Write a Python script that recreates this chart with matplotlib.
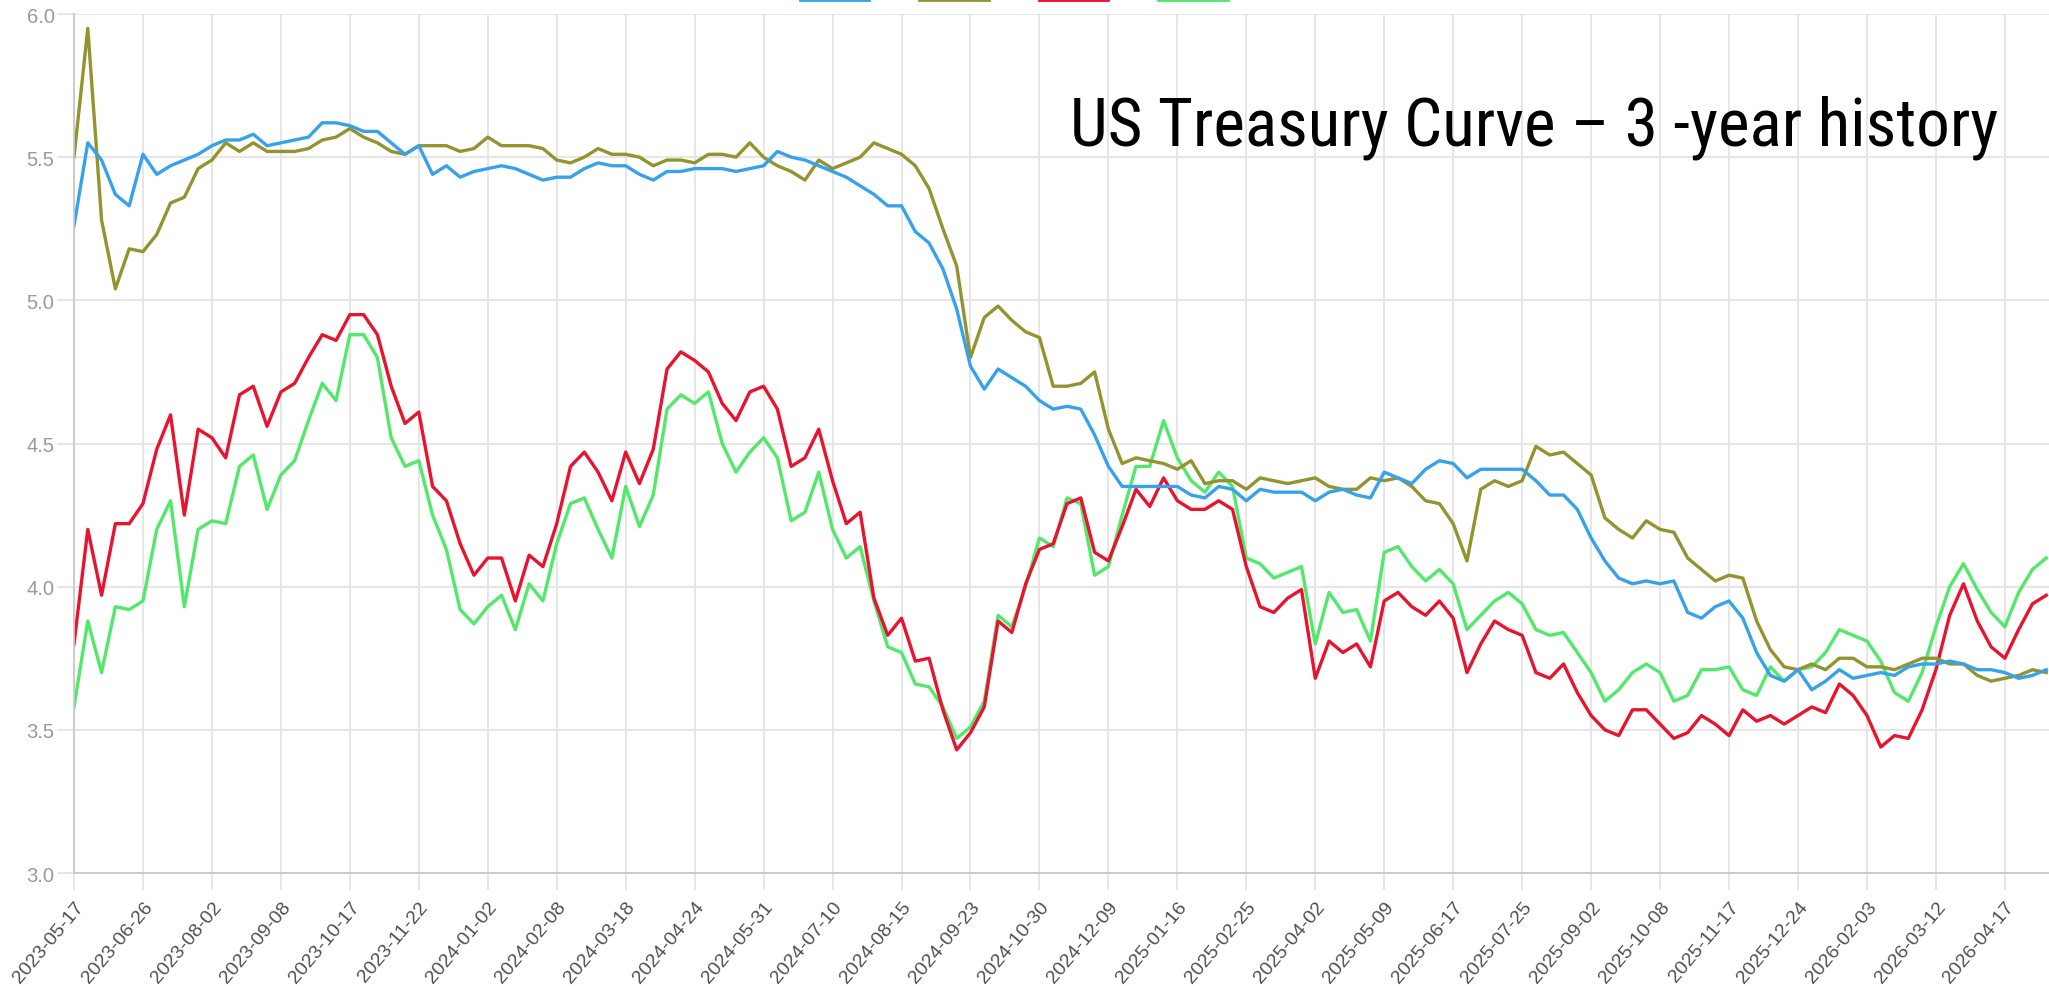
import numpy as np
import matplotlib
matplotlib.use('Agg')
import matplotlib.pyplot as plt
import matplotlib.font_manager as fm
from matplotlib.patches import Patch

# tick labels (category axis, one label every 5 points)
tick_dates = ['2023-05-17', '2023-06-26', '2023-08-02', '2023-09-08', '2023-10-17', '2023-11-22',
              '2024-01-02', '2024-02-08', '2024-03-18', '2024-04-24', '2024-05-31', '2024-07-10',
              '2024-08-15', '2024-09-23', '2024-10-30', '2024-12-09', '2025-01-16', '2025-02-25',
              '2025-04-02', '2025-05-09', '2025-06-17', '2025-07-25', '2025-09-02', '2025-10-08',
              '2025-11-17', '2025-12-24', '2026-02-03', '2026-03-12', '2026-04-17']

blue = [5.26, 5.55, 5.49, 5.37, 5.33, 5.51, 5.44, 5.47, 5.49, 5.51,
        5.54, 5.56, 5.56, 5.58, 5.54, 5.55, 5.56, 5.57, 5.62, 5.62,
        5.61, 5.59, 5.59, 5.55, 5.51, 5.54, 5.44, 5.47, 5.43, 5.45,
        5.46, 5.47, 5.46, 5.44, 5.42, 5.43, 5.43, 5.46, 5.48, 5.47,
        5.47, 5.44, 5.42, 5.45, 5.45, 5.46, 5.46, 5.46, 5.45, 5.46,
        5.47, 5.52, 5.50, 5.49, 5.47, 5.45, 5.43, 5.40, 5.37, 5.33,
        5.33, 5.24, 5.20, 5.11, 4.97, 4.77, 4.69, 4.76, 4.73, 4.70,
        4.65, 4.62, 4.63, 4.62, 4.53, 4.42, 4.35, 4.35, 4.35, 4.35,
        4.35, 4.32, 4.31, 4.35, 4.34, 4.30, 4.34, 4.33, 4.33, 4.33,
        4.30, 4.33, 4.34, 4.32, 4.31, 4.40, 4.38, 4.36, 4.41, 4.44,
        4.43, 4.38, 4.41, 4.41, 4.41, 4.41, 4.37, 4.32, 4.32, 4.27,
        4.17, 4.09, 4.03, 4.01, 4.02, 4.01, 4.02, 3.91, 3.89, 3.93,
        3.95, 3.89, 3.77, 3.69, 3.67, 3.71, 3.64, 3.67, 3.71, 3.68,
        3.69, 3.70, 3.69, 3.72, 3.73, 3.73, 3.74, 3.73, 3.71, 3.71,
        3.70, 3.68, 3.69, 3.71]

olive = [5.50, 5.95, 5.28, 5.04, 5.18, 5.17, 5.23, 5.34, 5.36, 5.46,
         5.49, 5.55, 5.52, 5.55, 5.52, 5.52, 5.52, 5.53, 5.56, 5.57,
         5.60, 5.57, 5.55, 5.52, 5.51, 5.54, 5.54, 5.54, 5.52, 5.53,
         5.57, 5.54, 5.54, 5.54, 5.53, 5.49, 5.48, 5.50, 5.53, 5.51,
         5.51, 5.50, 5.47, 5.49, 5.49, 5.48, 5.51, 5.51, 5.50, 5.55,
         5.50, 5.47, 5.45, 5.42, 5.49, 5.46, 5.48, 5.50, 5.55, 5.53,
         5.51, 5.47, 5.39, 5.25, 5.12, 4.80, 4.94, 4.98, 4.93, 4.89,
         4.87, 4.70, 4.70, 4.71, 4.75, 4.55, 4.43, 4.45, 4.44, 4.43,
         4.41, 4.44, 4.36, 4.37, 4.37, 4.34, 4.38, 4.37, 4.36, 4.37,
         4.38, 4.35, 4.34, 4.34, 4.38, 4.37, 4.38, 4.35, 4.30, 4.29,
         4.22, 4.09, 4.34, 4.37, 4.35, 4.37, 4.49, 4.46, 4.47, 4.43,
         4.39, 4.24, 4.20, 4.17, 4.23, 4.20, 4.19, 4.10, 4.06, 4.02,
         4.04, 4.03, 3.88, 3.78, 3.72, 3.71, 3.73, 3.71, 3.75, 3.75,
         3.72, 3.72, 3.71, 3.73, 3.75, 3.75, 3.73, 3.73, 3.69, 3.67,
         3.68, 3.69, 3.71, 3.70]

red = [3.80, 4.20, 3.97, 4.22, 4.22, 4.29, 4.48, 4.60, 4.25, 4.55,
       4.52, 4.45, 4.67, 4.70, 4.56, 4.68, 4.71, 4.80, 4.88, 4.86,
       4.95, 4.95, 4.88, 4.70, 4.57, 4.61, 4.35, 4.30, 4.15, 4.04,
       4.10, 4.10, 3.95, 4.11, 4.07, 4.22, 4.42, 4.47, 4.40, 4.30,
       4.47, 4.36, 4.48, 4.76, 4.82, 4.79, 4.75, 4.64, 4.58, 4.68,
       4.70, 4.62, 4.42, 4.45, 4.55, 4.37, 4.22, 4.26, 3.96, 3.83,
       3.89, 3.74, 3.75, 3.57, 3.43, 3.49, 3.58, 3.88, 3.84, 4.01,
       4.13, 4.15, 4.29, 4.31, 4.12, 4.09, 4.21, 4.34, 4.28, 4.38,
       4.30, 4.27, 4.27, 4.30, 4.27, 4.07, 3.93, 3.91, 3.96, 3.99,
       3.68, 3.81, 3.77, 3.80, 3.72, 3.95, 3.98, 3.93, 3.90, 3.95,
       3.89, 3.70, 3.80, 3.88, 3.85, 3.83, 3.70, 3.68, 3.73, 3.63,
       3.55, 3.50, 3.48, 3.57, 3.57, 3.52, 3.47, 3.49, 3.55, 3.52,
       3.48, 3.57, 3.53, 3.55, 3.52, 3.55, 3.58, 3.56, 3.66, 3.62,
       3.55, 3.44, 3.48, 3.47, 3.57, 3.71, 3.90, 4.01, 3.88, 3.79,
       3.75, 3.85, 3.94, 3.97]

green = [3.58, 3.88, 3.70, 3.93, 3.92, 3.95, 4.20, 4.30, 3.93, 4.20,
         4.23, 4.22, 4.42, 4.46, 4.27, 4.39, 4.44, 4.58, 4.71, 4.65,
         4.88, 4.88, 4.80, 4.52, 4.42, 4.44, 4.25, 4.13, 3.92, 3.87,
         3.93, 3.97, 3.85, 4.01, 3.95, 4.15, 4.29, 4.31, 4.20, 4.10,
         4.35, 4.21, 4.32, 4.62, 4.67, 4.64, 4.68, 4.50, 4.40, 4.47,
         4.52, 4.45, 4.23, 4.26, 4.40, 4.20, 4.10, 4.14, 3.95, 3.79,
         3.77, 3.66, 3.65, 3.58, 3.47, 3.51, 3.60, 3.90, 3.86, 4.00,
         4.17, 4.14, 4.31, 4.29, 4.04, 4.07, 4.25, 4.42, 4.42, 4.58,
         4.45, 4.37, 4.33, 4.40, 4.35, 4.10, 4.08, 4.03, 4.05, 4.07,
         3.80, 3.98, 3.91, 3.92, 3.81, 4.12, 4.14, 4.07, 4.02, 4.06,
         4.01, 3.85, 3.90, 3.95, 3.98, 3.94, 3.85, 3.83, 3.84, 3.77,
         3.70, 3.60, 3.64, 3.70, 3.73, 3.70, 3.60, 3.62, 3.71, 3.71,
         3.72, 3.64, 3.62, 3.72, 3.67, 3.71, 3.72, 3.77, 3.85, 3.83,
         3.81, 3.74, 3.63, 3.60, 3.70, 3.86, 4.00, 4.08, 3.99, 3.91,
         3.86, 3.98, 4.06, 4.10]

series = [('blue', blue, '#36a2eb', '#b5dcf7'),
          ('olive', olive, '#939330', '#e8e5a0'),
          ('red', red, '#e8132e', '#f5a3ad'),
          ('green', green, '#52e86a', '#a8f2b2')]

title = 'US Treasury Curve \u2013 3 -year history'


def narrow_font():
    # look for a condensed / narrow regular face for the title
    prefs = ['robotocondensed-regular', 'liberationsansnarrow-regular', 'opensans_condensed-regular',
             'opensanscondensed-regular', 'notosans-condensed.', 'dejavusanscondensed.ttf',
             'robotocondensed-light', 'opensans_condensed-light', 'opensanscondensed-light']
    files = [f.fname for f in fm.fontManager.ttflist]
    for p in prefs:
        for fn in files:
            if p in fn.lower().replace(' ', ''):
                return fm.FontProperties(fname=fn)
    for fn in files:
        low = fn.lower()
        if ('narrow' in low or 'condensed' in low) and not any(
                k in low for k in ['bold', 'italic', 'oblique', 'black', 'semi', 'extra', 'medium', 'thin']):
            return fm.FontProperties(fname=fn)
    return fm.FontProperties(family='DejaVu Sans', stretch='condensed')


W, H = 2049, 987
fig = plt.figure(figsize=(W / 100, H / 100), dpi=100)
ax = fig.add_axes([74 / W, 1 - 874 / H, 1 - 74 / W, (874 - 15) / H])

x = np.arange(len(blue))
for name, vals, col, light in reversed(series):
    ax.plot(x, vals, color=col, lw=2.4)

ax.set_ylim(3.0, 6.0)
ax.set_xlim(0, 143.2)
ax.set_yticks(np.arange(3.0, 6.01, 0.5))
ax.set_yticklabels([f'{v:.1f}' for v in np.arange(3.0, 6.01, 0.5)])
ax.set_xticks(np.arange(0, len(tick_dates) * 5, 5))
ax.set_xticklabels(tick_dates, rotation=50, ha='right', va='top', rotation_mode='anchor')

ax.grid(True, color='#e4e4e4', lw=1.3)
ax.set_axisbelow(True)
for s in ['top', 'right']:
    ax.spines[s].set_visible(False)
for s in ['left', 'bottom']:
    ax.spines[s].set_color('#c8c8c8')
    ax.spines[s].set_linewidth(1.3)

ax.tick_params(axis='y', length=12, width=1.3, color='#e4e4e4', labelsize=14.5,
               labelcolor='#9a9a9a', pad=2)
ax.tick_params(axis='x', length=12, width=1.3, color='#e4e4e4', labelsize=14,
               labelcolor='#505050', pad=6)
for lab in ax.get_xticklabels() + ax.get_yticklabels():
    lab.set_family(['Liberation Sans', 'DejaVu Sans'])

# legend boxes, mostly cut off at the top edge
handles = [Patch(facecolor=light, edgecolor=col, lw=2) for _, _, col, light in series]
fig.legend(handles, ['', '', '', ''], loc='lower left', bbox_to_anchor=(800 / W, 1 - 3 / H),
           ncol=4, frameon=False, fontsize=10, handlelength=5.0, handleheight=0.9,
           handletextpad=0, columnspacing=3.6, borderpad=0, borderaxespad=0)

fp = narrow_font()
fp.set_size(46)
t = fig.text(1070 / W, 1 - 146 / H, title, fontproperties=fp, color='black',
             va='baseline', ha='left')
# fit the title to the width it has in the picture (about 928 px)
r = fig.canvas.get_renderer()
w = t.get_window_extent(renderer=r).width
t.set_fontsize(46 * 928 / w)

fig.savefig('out.png', dpi=100)
